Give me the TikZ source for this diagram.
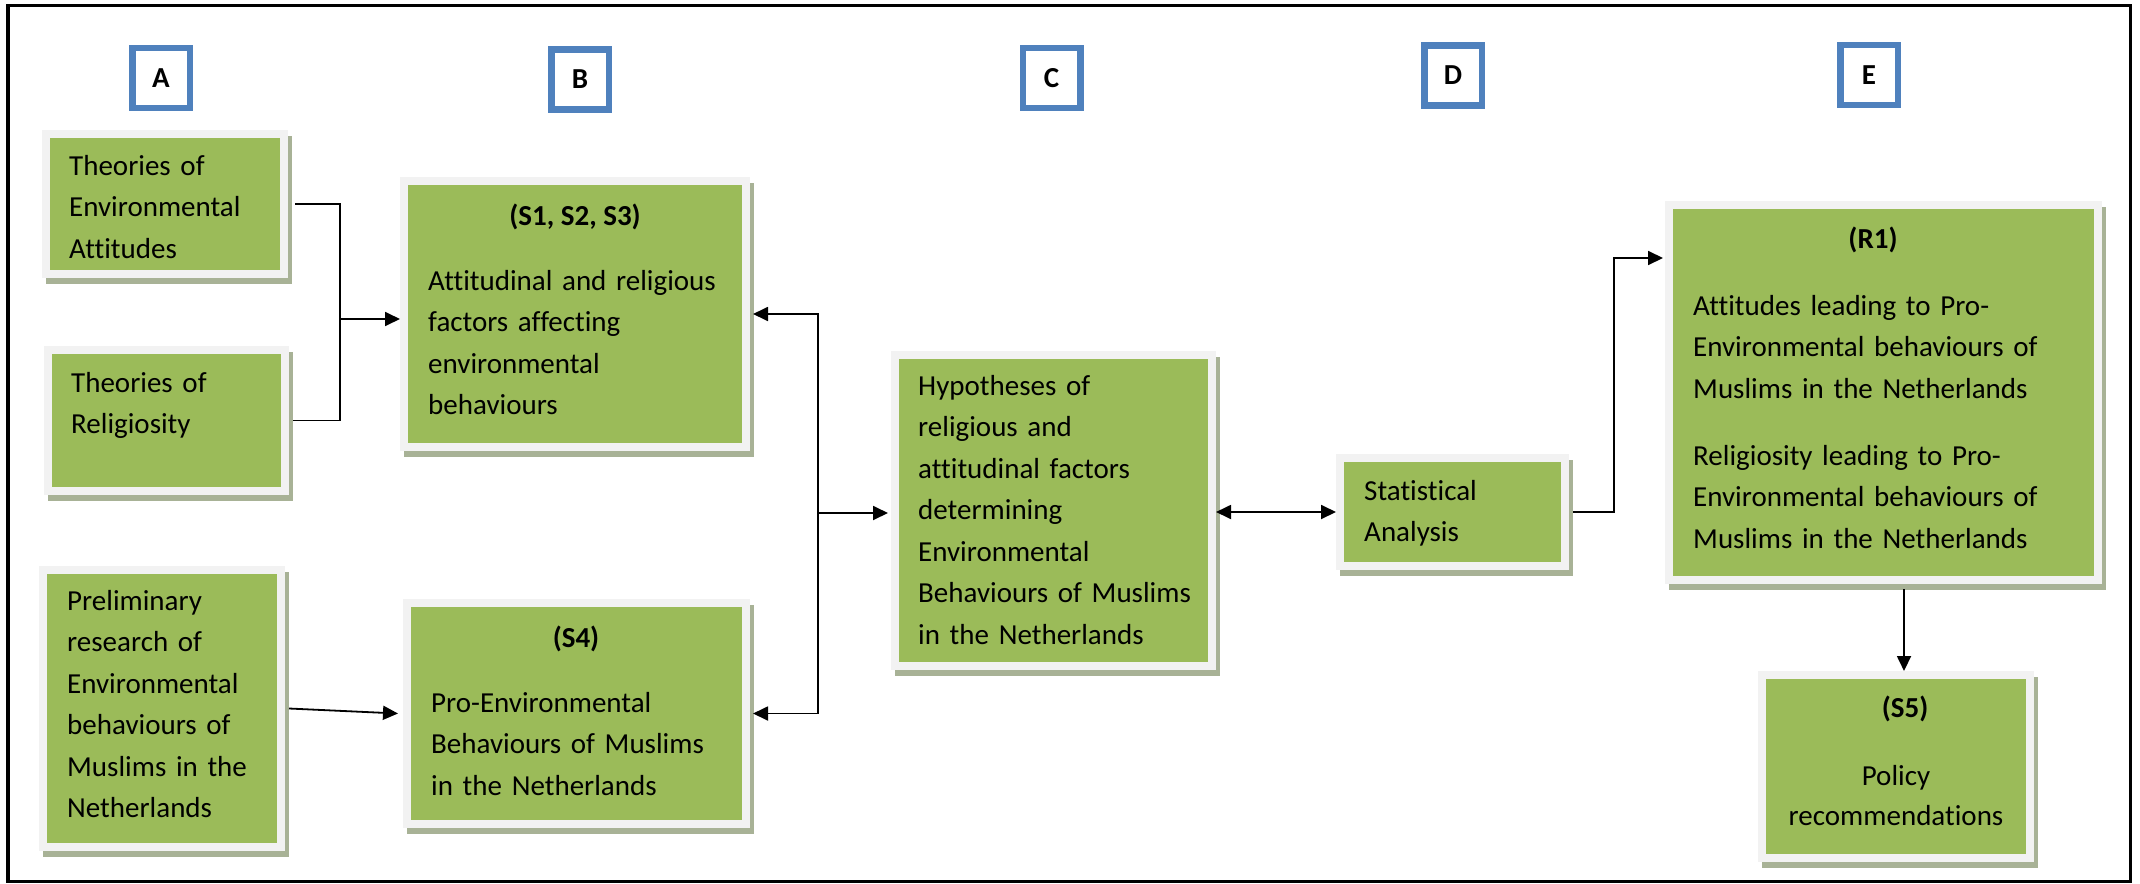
\documentclass[tikz,border=0pt]{standalone}
\usepackage{fontspec}
\setmainfont{Carlito}[Ligatures=NoCommon]
\usetikzlibrary{arrows.meta}
\definecolor{boxgreen}{RGB}{155,187,89}
\definecolor{framegrey}{RGB}{242,242,242}
\definecolor{shadowc}{RGB}{168,178,150}
\definecolor{letterblue}{RGB}{79,129,189}
\tikzset{
  gbox/.style={draw=framegrey, fill=boxgreen, line width=8pt, inner sep=0pt,
    preaction={fill=shadowc, draw=shadowc, line width=8pt, transform canvas={shift={(3.5pt,-6pt)}}}},
  letterbox/.style={draw=letterblue, fill=white, line width=6.5pt, inner sep=0pt,
    minimum width=57.5pt, minimum height=59.5pt, font=\bfseries\fontsize{29}{35}\selectfont},
  txt/.style={anchor=base west, inner sep=0pt, text width=430pt, align=left,
    font=\fontsize{29}{41.5}\selectfont},
  ctxt/.style={anchor=base, inner sep=0pt, text width=320pt, align=center,
    font=\fontsize{29}{40}\selectfont},
  hdr/.style={anchor=base, inner sep=0pt, font=\bfseries\fontsize{29}{41.5}\selectfont},
  conn/.style={draw=black, line width=1.8pt},
  arr/.style={conn, -{Triangle[length=15pt,width=14pt]}},
  dblarr/.style={conn, {Triangle[length=15pt,width=14pt]}-{Triangle[length=15pt,width=14pt]}}
}
\begin{document}
\begin{tikzpicture}[x=1pt,y=-1pt]
\useasboundingbox (0,0) rectangle (2140,883);
% outer frame
\draw[line width=3.5pt] (8,5.5) rectangle (2130.5,881.5);

% column letters
\node[letterbox] (lA) at (161,78) {A};
\node[letterbox] (lB) at (580,79.5) {B};
\node[letterbox] (lC) at (1051.5,78) {C};
\node[letterbox] (lD) at (1453,75.5) {D};
\node[letterbox] (lE) at (1869,75) {E};

% green boxes
\node[gbox, minimum width=238pt, minimum height=140pt] (TEA) at (165,204) {};
\node[gbox, minimum width=237pt, minimum height=141pt] (TR) at (166.5,420.5) {};
\node[gbox, minimum width=238pt, minimum height=277pt] (PR) at (162,708.5) {};
\node[gbox, minimum width=342pt, minimum height=266pt] (S1) at (575,314) {};
\node[gbox, minimum width=339pt, minimum height=221pt] (S4) at (576.5,713.5) {};
\node[gbox, minimum width=317pt, minimum height=311pt] (HY) at (1053.5,510.5) {};
\node[gbox, minimum width=225pt, minimum height=108pt] (SA) at (1452.5,512) {};
\node[gbox, minimum width=429pt, minimum height=375pt] (R1) at (1883.5,392.5) {};
\node[gbox, minimum width=268pt, minimum height=183pt] (S5) at (1896,766.5) {};

% texts
\node[txt] (tTEA) at (69,175) {Theories of\\Environmental\\Attitudes};
\node[txt] (tTR) at (71,392) {Theories of\\Religiosity};
\node[txt] (tPR) at (67,610) {Preliminary\\research of\\Environmental\\behaviours of\\Muslims in the\\Netherlands};
\node[hdr] (hS1) at (575,225) {(S1, S2, S3)};
\node[txt] (tS1) at (428,290) {Attitudinal and religious\\factors affecting\\environmental\\behaviours};
\node[hdr] (hS4) at (576,647) {(S4)};
\node[txt] (tS4) at (431,712) {Pro-Environmental\\Behaviours of Muslims\\in the Netherlands};
\node[txt] (tHY) at (918,395) {Hypotheses of\\religious and\\attitudinal factors\\determining\\Environmental\\Behaviours of Muslims\\in the Netherlands};
\node[txt] (tSA) at (1364,500) {Statistical\\Analysis};
\node[hdr] (hR1) at (1873,248) {(R1)};
\node[txt] (tR1) at (1693,315) {Attitudes leading to Pro-\\Environmental behaviours of\\Muslims in the Netherlands\\[25.5pt]Religiosity leading to Pro-\\Environmental behaviours of\\Muslims in the Netherlands};
\node[hdr] (hS5) at (1905,717) {(S5)};
\node[ctxt] (tS5) at (1896,785) {Policy\\recommendations};

% connectors
\coordinate (jA) at (340,319);
\draw[conn] ([xshift=7pt]TEA.east) -| (jA) |- ([xshift=4pt]TR.east);
\draw[arr] (jA) -- (S1.west |- jA);
\draw[arr] ([xshift=4pt]PR.east) -- ([xshift=-5pt]S4.west);
\coordinate (jB) at (818,513);
\draw[arr] (jB) |- ([xshift=3pt]S1.east);
\draw[arr] (jB) |- ([xshift=3pt]S4.east);
\draw[arr] (jB) -- ([xshift=-3pt]HY.west |- jB);
\draw[dblarr] (HY.east |- SA.west) -- (SA.west);
\coordinate (jC) at (1614,258);
\draw[arr] ([xshift=4pt]SA.east) -| (jC) -- ([xshift=-2pt]R1.west |- jC);
\draw[arr] ([xshift=8pt,yshift=-5pt]S5.north |- R1.south) -- ([xshift=8pt]S5.north);
\end{tikzpicture}
\end{document}
